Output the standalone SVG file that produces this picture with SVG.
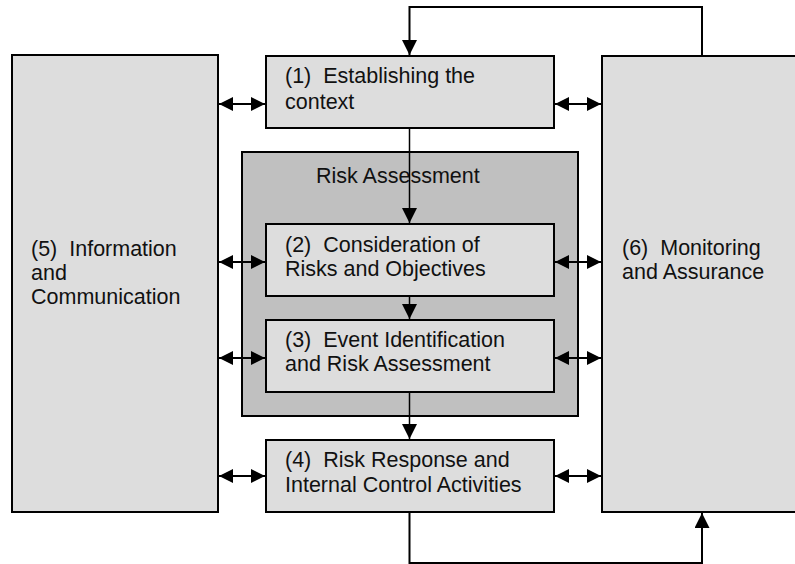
<svg xmlns="http://www.w3.org/2000/svg" width="795" height="564" viewBox="0 0 795 564">
<defs>
<style>
.box{fill:#dddddd;stroke:#000;stroke-width:2}
.ra{fill:#c0c0c0;stroke:#000;stroke-width:2}
.t{font-family:"Liberation Sans",Arial,sans-serif;font-size:21.5px;fill:#111;white-space:pre}
.c{fill:none;stroke:#000;stroke-width:2}
.v{fill:none;stroke:#000;stroke-width:1.5}
</style>
<marker id="ah" viewBox="0 0 14 14" refX="14" refY="7" markerWidth="14" markerHeight="14" markerUnits="userSpaceOnUse" orient="auto-start-reverse">
<path d="M0,0 L14,7 L0,14 z" fill="#000"/>
</marker>
<marker id="ahv" viewBox="0 0 15 15" refX="15" refY="7.5" markerWidth="15" markerHeight="15" markerUnits="userSpaceOnUse" orient="auto">
<path d="M0,0 L15,7.5 L0,15 z" fill="#000"/>
</marker>
</defs>
<rect width="795" height="564" fill="#fff"/>
<g id="n5"><rect class="box" x="12" y="55" width="206" height="457"/>
<text class="t" x="31" y="256">(5)  Information</text>
<text class="t" x="31" y="280">and</text>
<text class="t" x="31" y="304">Communication</text></g>
<g id="n6"><rect class="box" x="602" y="56" width="210" height="456"/>
<text class="t" x="622" y="255">(6)  Monitoring</text>
<text class="t" x="622" y="279">and Assurance</text></g>
<g id="ra"><rect class="ra" x="242" y="152" width="336" height="264"/>
<text class="t" x="316" y="183">Risk Assessment</text></g>
<g id="n1"><rect class="box" x="266" y="56" width="288" height="72"/>
<text class="t" x="285" y="83">(1)  Establishing the</text>
<text class="t" x="285" y="109">context</text></g>
<g id="n2"><rect class="box" x="266" y="224" width="288" height="72"/>
<text class="t" x="285" y="252">(2)  Consideration of</text>
<text class="t" x="285" y="276">Risks and Objectives</text></g>
<g id="n3"><rect class="box" x="266" y="320" width="288" height="72"/>
<text class="t" x="285" y="347">(3)  Event Identification</text>
<text class="t" x="285" y="371">and Risk Assessment</text></g>
<g id="n4"><rect class="box" x="266" y="440" width="288" height="72"/>
<text class="t" x="285" y="467">(4)  Risk Response and</text>
<text class="t" x="285" y="492">Internal Control Activities</text></g>
<g id="connectors">
<line class="c" x1="219" y1="104" x2="265" y2="104" marker-start="url(#ah)" marker-end="url(#ah)"/>
<line class="c" x1="219" y1="262" x2="265" y2="262" marker-start="url(#ah)" marker-end="url(#ah)"/>
<line class="c" x1="219" y1="358" x2="265" y2="358" marker-start="url(#ah)" marker-end="url(#ah)"/>
<line class="c" x1="219" y1="476" x2="265" y2="476" marker-start="url(#ah)" marker-end="url(#ah)"/>
<line class="c" x1="555" y1="104" x2="601" y2="104" marker-start="url(#ah)" marker-end="url(#ah)"/>
<line class="c" x1="555" y1="262" x2="601" y2="262" marker-start="url(#ah)" marker-end="url(#ah)"/>
<line class="c" x1="555" y1="358" x2="601" y2="358" marker-start="url(#ah)" marker-end="url(#ah)"/>
<line class="c" x1="555" y1="476" x2="601" y2="476" marker-start="url(#ah)" marker-end="url(#ah)"/>
<line class="v" x1="409.5" y1="128" x2="409.5" y2="223" marker-end="url(#ahv)"/>
<line class="v" x1="409.5" y1="296" x2="409.5" y2="319" marker-end="url(#ahv)"/>
<line class="v" x1="409.5" y1="392" x2="409.5" y2="439" marker-end="url(#ahv)"/>
<polyline class="c" points="702,56 702,7 409.5,7 409.5,55" marker-end="url(#ahv)"/>
<polyline class="c" points="409.5,512 409.5,563 702,563 702,513" marker-end="url(#ahv)"/>
</g>
</svg>
